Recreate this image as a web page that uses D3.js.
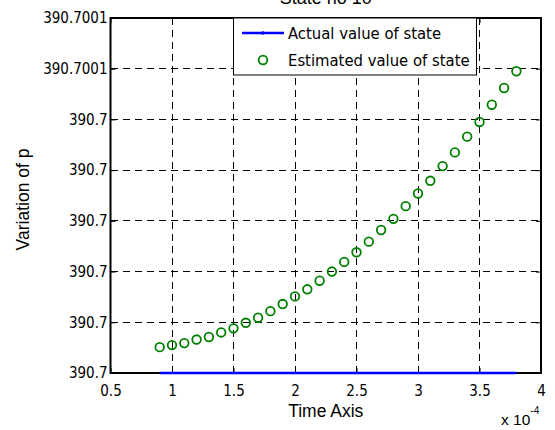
<!DOCTYPE html>
<html>
<head>
<meta charset="utf-8">
<script src="https://cdn.jsdelivr.net/npm/d3@7"></script>
<style>
  html, body { margin: 0; padding: 0; background: #fff; }
  svg { display: block; }
</style>
</head>
<body>
<svg id="chart" width="555" height="430"></svg>
<script>
// ---------- data ----------
const titleText = "State no 10";
const xLabel = "Time Axis";
const yLabel = "Variation of p";
const legendLabels = ["Actual value of state", "Estimated value of state"];

// time in units of 1e-4
const timeValues = [0.9, 1.0, 1.1, 1.2, 1.3, 1.4, 1.5, 1.6, 1.7, 1.8, 1.9, 2.0, 2.1, 2.2, 2.3,
                    2.4, 2.5, 2.6, 2.7, 2.8, 2.9, 3.0, 3.1, 3.2, 3.3, 3.4, 3.5, 3.6, 3.7, 3.8];
// p offset above 390.7, in units of 1e-5
const actualValues = [0, 0, 0, 0, 0, 0, 0, 0, 0, 0, 0, 0, 0, 0, 0,
                      0, 0, 0, 0, 0, 0, 0, 0, 0, 0, 0, 0, 0, 0, 0];
const estimatedValues = [0.51, 0.55, 0.59, 0.66, 0.71, 0.80, 0.88, 0.99, 1.09, 1.22, 1.36, 1.51, 1.65, 1.82, 2.00,
                         2.19, 2.38, 2.59, 2.82, 3.04, 3.29, 3.54, 3.79, 4.08, 4.35, 4.66, 4.95, 5.29, 5.62, 5.95];

const xTicks = [0.5, 1, 1.5, 2, 2.5, 3, 3.5, 4];
const xTickLabels = ["0.5", "1", "1.5", "2", "2.5", "3", "3.5", "4"];
const yTicks = [0, 1, 2, 3, 4, 5, 6, 7];
const yTickLabels = ["390.7", "390.7", "390.7", "390.7", "390.7", "390.7", "390.7001", "390.7001"];

// ---------- layout ----------
const svg = d3.select("#chart");
const L = 110.5, R = 541, T = 18, B = 373;
const x = d3.scaleLinear().domain([0.5, 4]).range([L, R]);
const y = d3.scaleLinear().domain([0, 7]).range([B, T]);

const tickFont = "'DejaVu Sans Condensed', 'DejaVu Sans', sans-serif";
const labelFont = "'Liberation Sans', Arial, sans-serif";

// plot background
svg.append("rect").attr("x", L).attr("y", T).attr("width", R - L).attr("height", B - T).attr("fill", "#fff");

// grid
const grid = svg.append("g").attr("stroke", "#000").attr("stroke-width", 1)
  .attr("stroke-dasharray", "7,5").attr("fill", "none").attr("shape-rendering", "crispEdges");
xTicks.slice(1, -1).forEach(v => {
  grid.append("line").attr("x1", x(v)).attr("x2", x(v)).attr("y1", T).attr("y2", B);
});
yTicks.slice(1, -1).forEach(v => {
  grid.append("line").attr("x1", L).attr("x2", R).attr("y1", y(v)).attr("y2", y(v));
});

// axes (ticks inside, mirrored)
const xAxisB = d3.axisBottom(x).tickValues(xTicks).tickSize(-5).tickPadding(12)
  .tickFormat((d, i) => xTickLabels[i]);
const gxb = svg.append("g").attr("transform", `translate(0,${B})`).call(xAxisB);
const xAxisT = d3.axisTop(x).tickValues(xTicks).tickSize(-5).tickFormat("");
const gxt = svg.append("g").attr("transform", `translate(0,${T})`).call(xAxisT);
const yAxisL = d3.axisLeft(y).tickValues(yTicks).tickSize(-5).tickPadding(3)
  .tickFormat((d, i) => yTickLabels[i]);
const gyl = svg.append("g").attr("transform", `translate(${L},0)`).call(yAxisL);
const yAxisR = d3.axisRight(y).tickValues(yTicks).tickSize(-5).tickFormat("");
const gyr = svg.append("g").attr("transform", `translate(${R},0)`).call(yAxisR);

[gxb, gxt, gyl, gyr].forEach(g => {
  g.select(".domain").remove();
  g.selectAll(".tick line").attr("stroke", "#000").attr("stroke-width", 1);
  g.selectAll("text").attr("fill", "#000").style("font-family", tickFont).style("font-size", "15px");
});
gxb.selectAll("text").attr("dy", "0.71em").attr("y", 12);

// frame
svg.append("rect").attr("x", L).attr("y", T).attr("width", R - L).attr("height", B - T)
  .attr("fill", "none").attr("stroke", "#000").attr("stroke-width", 2);

// actual series line
const line = d3.line().x((d, i) => x(timeValues[i])).y(d => y(d));
svg.append("path").datum(actualValues).attr("d", line)
  .attr("fill", "none").attr("stroke", "#0000ff").attr("stroke-width", 2.5);

// estimated markers
svg.append("g").selectAll("circle").data(estimatedValues).join("circle")
  .attr("cx", (d, i) => x(timeValues[i])).attr("cy", d => y(d)).attr("r", 4.3)
  .attr("fill", "none").attr("stroke", "#008000").attr("stroke-width", 1.8);

// title and labels
svg.append("text").attr("x", (L + R) / 2).attr("y", 4).attr("text-anchor", "middle")
  .style("font-family", labelFont).style("font-size", "18px").text(titleText);
svg.append("text").attr("x", (L + R) / 2).attr("y", 417).attr("text-anchor", "middle")
  .style("font-family", labelFont).style("font-size", "17.5px").text(xLabel);
svg.append("text").attr("transform", `translate(29,${(T + B) / 2 + 4}) rotate(-90)`)
  .attr("text-anchor", "middle")
  .style("font-family", labelFont).style("font-size", "17.5px").text(yLabel);

// exponent
const expo = svg.append("text").attr("x", 501).attr("y", 425)
  .style("font-family", labelFont).style("font-size", "15.5px");
expo.append("tspan").text("x 10");
expo.append("tspan").attr("dy", -11).style("font-size", "10px").text("-4");

// legend
const lg = svg.append("g");
lg.append("rect").attr("x", 233.5).attr("y", 18).attr("width", 243).attr("height", 57)
  .attr("fill", "#fff").attr("stroke", "#000").attr("stroke-width", 1);
lg.append("line").attr("x1", 242).attr("x2", 284).attr("y1", 33).attr("y2", 33)
  .attr("stroke", "#0000ff").attr("stroke-width", 2.5);
lg.append("circle").attr("cx", 263).attr("cy", 33).attr("r", 1.8).attr("fill", "#0000ff");
lg.append("circle").attr("cx", 263).attr("cy", 60).attr("r", 4.3)
  .attr("fill", "none").attr("stroke", "#008000").attr("stroke-width", 1.8);
lg.selectAll("text.lt").data(legendLabels).join("text").attr("class", "lt")
  .attr("x", 288).attr("y", (d, i) => 39 + i * 27)
  .style("font-family", tickFont).style("font-size", "16.5px").text(d => d);
</script>
</body>
</html>
